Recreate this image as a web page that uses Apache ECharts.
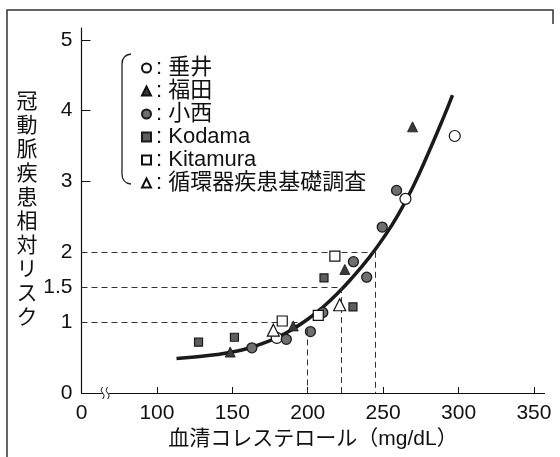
<!DOCTYPE html>
<html>
<head>
<meta charset="utf-8">
<script src="https://cdn.jsdelivr.net/npm/echarts@6/dist/echarts.min.js"></script>
<style>
html,body{margin:0;padding:0;background:#fff;}
#chart{width:560px;height:457px;}
</style>
</head>
<body>
<div id="chart"></div>
<script>
// ---- data ----
const xTickValues = [50, 100, 150, 200, 250, 300, 350];
const xTickLabels = ['0', '100', '150', '200', '250', '300', '350'];
const yTickValues = [0, 1, 1.5, 2, 3, 4, 5];

const seriesNames = ['垂井', '福田', '小西', 'Kodama', 'Kitamura', '循環器疾患基礎調査'];

const taruiX = [179.5, 264.8, 297.5];
const taruiY = [0.78, 2.75, 3.64];

const fukudaX = [148.6, 190.4, 224.6, 269.5];
const fukudaY = [0.58, 0.95, 1.75, 3.77];

const konishiX = [163, 185.8, 201.8, 210, 230.3, 239.1, 249.4, 258.9];
const konishiY = [0.64, 0.76, 0.87, 1.14, 1.86, 1.64, 2.35, 2.87];

const kodamaX = [127.6, 151.4, 210.8, 230];
const kodamaY = [0.72, 0.79, 1.63, 1.22];

const kitamuraX = [183.1, 207, 218];
const kitamuraY = [1.02, 1.10, 1.94];

const junkankiX = [177.2, 221.2];
const junkankiY = [0.89, 1.25];

const mrfitX = [113, 125, 140, 150, 160, 170, 180, 190, 200, 210, 220, 230, 240, 250, 260, 270, 280, 290, 296];
const mrfitY = [0.49, 0.51, 0.545, 0.58, 0.63, 0.70, 0.79, 0.905, 1.045, 1.215, 1.415, 1.645, 1.90, 2.19, 2.525, 2.93, 3.40, 3.90, 4.22];

// reference (dashed) lines: RR level, x where horizontal ends, vertical x, vertical top
const refRR = [1, 1.5, 2];
const refHEndX = [196, 222.5, 244.5];
const refVX = [200, 222.5, 244.5];
const refVTop = [0.9, 1.5, 2];

const breakAt = [66, 0];

// ---- build ----
const zip = (xs, ys) => xs.map((x, i) => [x, ys[i]]);
const FONT = '"Liberation Sans", "Noto Sans CJK JP", sans-serif';

const mrfitData = zip(mrfitX, mrfitY).map((p, i, arr) => i === arr.length - 1
  ? { value: p, label: { show: true, position: 'top', distance: 8, formatter: 'MRFIT', color: '#111', fontSize: 21, fontFamily: FONT } }
  : p);

const markLines = [];
refRR.forEach((rr, i) => {
  markLines.push([{ coord: [50, rr] }, { coord: [refHEndX[i], rr] }]);
  markLines.push([{ coord: [refVX[i], refVTop[i]] }, { coord: [refVX[i], 0] }]);
});

const chart = echarts.init(document.getElementById('chart'), null, { renderer: 'canvas' });

const option = {
  animation: false,
  backgroundColor: '#fff',
  textStyle: { fontFamily: FONT },
  grid: { left: 81.5, right: 15.5, top: 28, bottom: 64, containLabel: false },
  xAxis: {
    type: 'value', min: 50, max: 357,
    axisLine: { show: true, lineStyle: { color: '#111', width: 1.2 } },
    axisTick: { show: true, inside: true, length: 6, customValues: xTickValues.slice(1), lineStyle: { color: '#111' } },
    axisLabel: {
      customValues: xTickValues, margin: 10, color: '#111', fontSize: 21, fontFamily: FONT,
      formatter: v => { const k = xTickValues.indexOf(v); return k >= 0 ? xTickLabels[k] : ''; }
    },
    splitLine: { show: false },
    name: '血清コレステロール（mg/dL）', nameLocation: 'middle', nameGap: 31,
    nameTextStyle: { color: '#111', fontSize: 21, fontFamily: FONT }
  },
  yAxis: {
    type: 'value', min: 0, max: 5.17,
    axisLine: { show: true, lineStyle: { color: '#111', width: 1.2 } },
    axisTick: { show: true, inside: true, length: 9, customValues: [3, 4, 5], lineStyle: { color: '#111' } },
    axisLabel: { customValues: yTickValues, margin: 9, color: '#111', fontSize: 21, fontFamily: FONT },
    splitLine: { show: false },
    name: '冠\n動\n脈\n疾\n患\n相\n対\nリ\nス\nク', nameLocation: 'middle', nameGap: 29, nameRotate: 0,
    nameTextStyle: { color: '#111', fontSize: 21, lineHeight: 24, fontFamily: FONT, padding: [38, 0, 0, 0] }
  },
  legend: {
    orient: 'vertical', left: 136, top: 52, itemWidth: 9, itemHeight: 9, itemGap: 1, itemTextGap: 4,
    data: seriesNames,
    formatter: n => ': ' + n,
    textStyle: { color: '#111', fontSize: 22, fontFamily: FONT, lineHeight: 22 },
    selectedMode: false
  },
  graphic: [
    { type: 'polyline', shape: { points: [[7, 457], [7, 10], [553, 10], [553, 24]] }, style: { stroke: '#333', lineWidth: 1.5, fill: null } },
    { type: 'bezierCurve', shape: { x1: 131, y1: 54, cpx1: 122, cpy1: 55, x2: 122, y2: 64 }, style: { stroke: '#222', lineWidth: 1.3, fill: null } },
    { type: 'line', shape: { x1: 122, y1: 64, x2: 122, y2: 174 }, style: { stroke: '#222', lineWidth: 1.3 } },
    { type: 'bezierCurve', shape: { x1: 122, y1: 174, cpx1: 122, cpy1: 183, x2: 131, y2: 184 }, style: { stroke: '#222', lineWidth: 1.3, fill: null } }
  ],
  series: [
    {
      name: 'MRFIT', type: 'line', data: mrfitData, smooth: true, showSymbol: false, symbol: 'none',
      lineStyle: { color: '#1a1a1a', width: 3.5 }, z: 2, silent: true,
      markLine: {
        silent: true, symbol: ['none', 'none'], label: { show: false },
        lineStyle: { color: '#333', width: 1, type: [6, 4] },
        data: markLines
      }
    },
    { name: seriesNames[0], type: 'scatter', data: zip(taruiX, taruiY), symbol: 'circle', symbolSize: 11,
      itemStyle: { color: '#fff', borderColor: '#111', borderWidth: 1.2, opacity: 1 }, z: 4 },
    { name: seriesNames[1], type: 'scatter', data: zip(fukudaX, fukudaY), symbol: 'triangle', symbolSize: 10,
      itemStyle: { color: '#3a3a3a', borderColor: '#111', borderWidth: 0.8, opacity: 1 }, z: 4 },
    { name: seriesNames[2], type: 'scatter', data: zip(konishiX, konishiY), symbol: 'circle', symbolSize: 10,
      itemStyle: { color: '#6f6f6f', borderColor: '#1a1a1a', borderWidth: 1.3, opacity: 1 }, z: 4 },
    { name: seriesNames[3], type: 'scatter', data: zip(kodamaX, kodamaY), symbol: 'rect', symbolSize: 8,
      itemStyle: { color: '#5e5e5e', borderColor: '#1a1a1a', borderWidth: 1.2, opacity: 1 }, z: 4 },
    { name: seriesNames[4], type: 'scatter', data: zip(kitamuraX, kitamuraY), symbol: 'rect', symbolSize: 10,
      itemStyle: { color: '#fff', borderColor: '#111', borderWidth: 1.2, opacity: 1 }, z: 5 },
    { name: seriesNames[5], type: 'scatter', data: zip(junkankiX, junkankiY), symbol: 'triangle', symbolSize: 12,
      itemStyle: { color: '#fff', borderColor: '#111', borderWidth: 1.2, opacity: 1 }, z: 5 },
    {
      type: 'custom', data: [breakAt], silent: true, z: 6,
      renderItem: (params, api) => {
        const p = api.coord([api.value(0), api.value(1)]);
        const x = p[0], y = p[1];
        return {
          type: 'group',
          children: [
            { type: 'rect', shape: { x: x - 3, y: y - 2, width: 6, height: 4 }, style: { fill: '#fff' } },
            { type: 'bezierCurve', shape: { x1: x - 3, y1: y - 6, cpx1: x - 8, cpy1: y, x2: x - 3, y2: y + 6, cpx2: x + 2, cpy2: y } , style: { stroke: '#111', lineWidth: 1, fill: null } },
            { type: 'bezierCurve', shape: { x1: x + 2, y1: y - 6, cpx1: x - 3, cpy1: y, x2: x + 2, y2: y + 6, cpx2: x + 7, cpy2: y }, style: { stroke: '#111', lineWidth: 1, fill: null } }
          ]
        };
      }
    }
  ]
};
chart.setOption(option);
</script>
</body>
</html>
